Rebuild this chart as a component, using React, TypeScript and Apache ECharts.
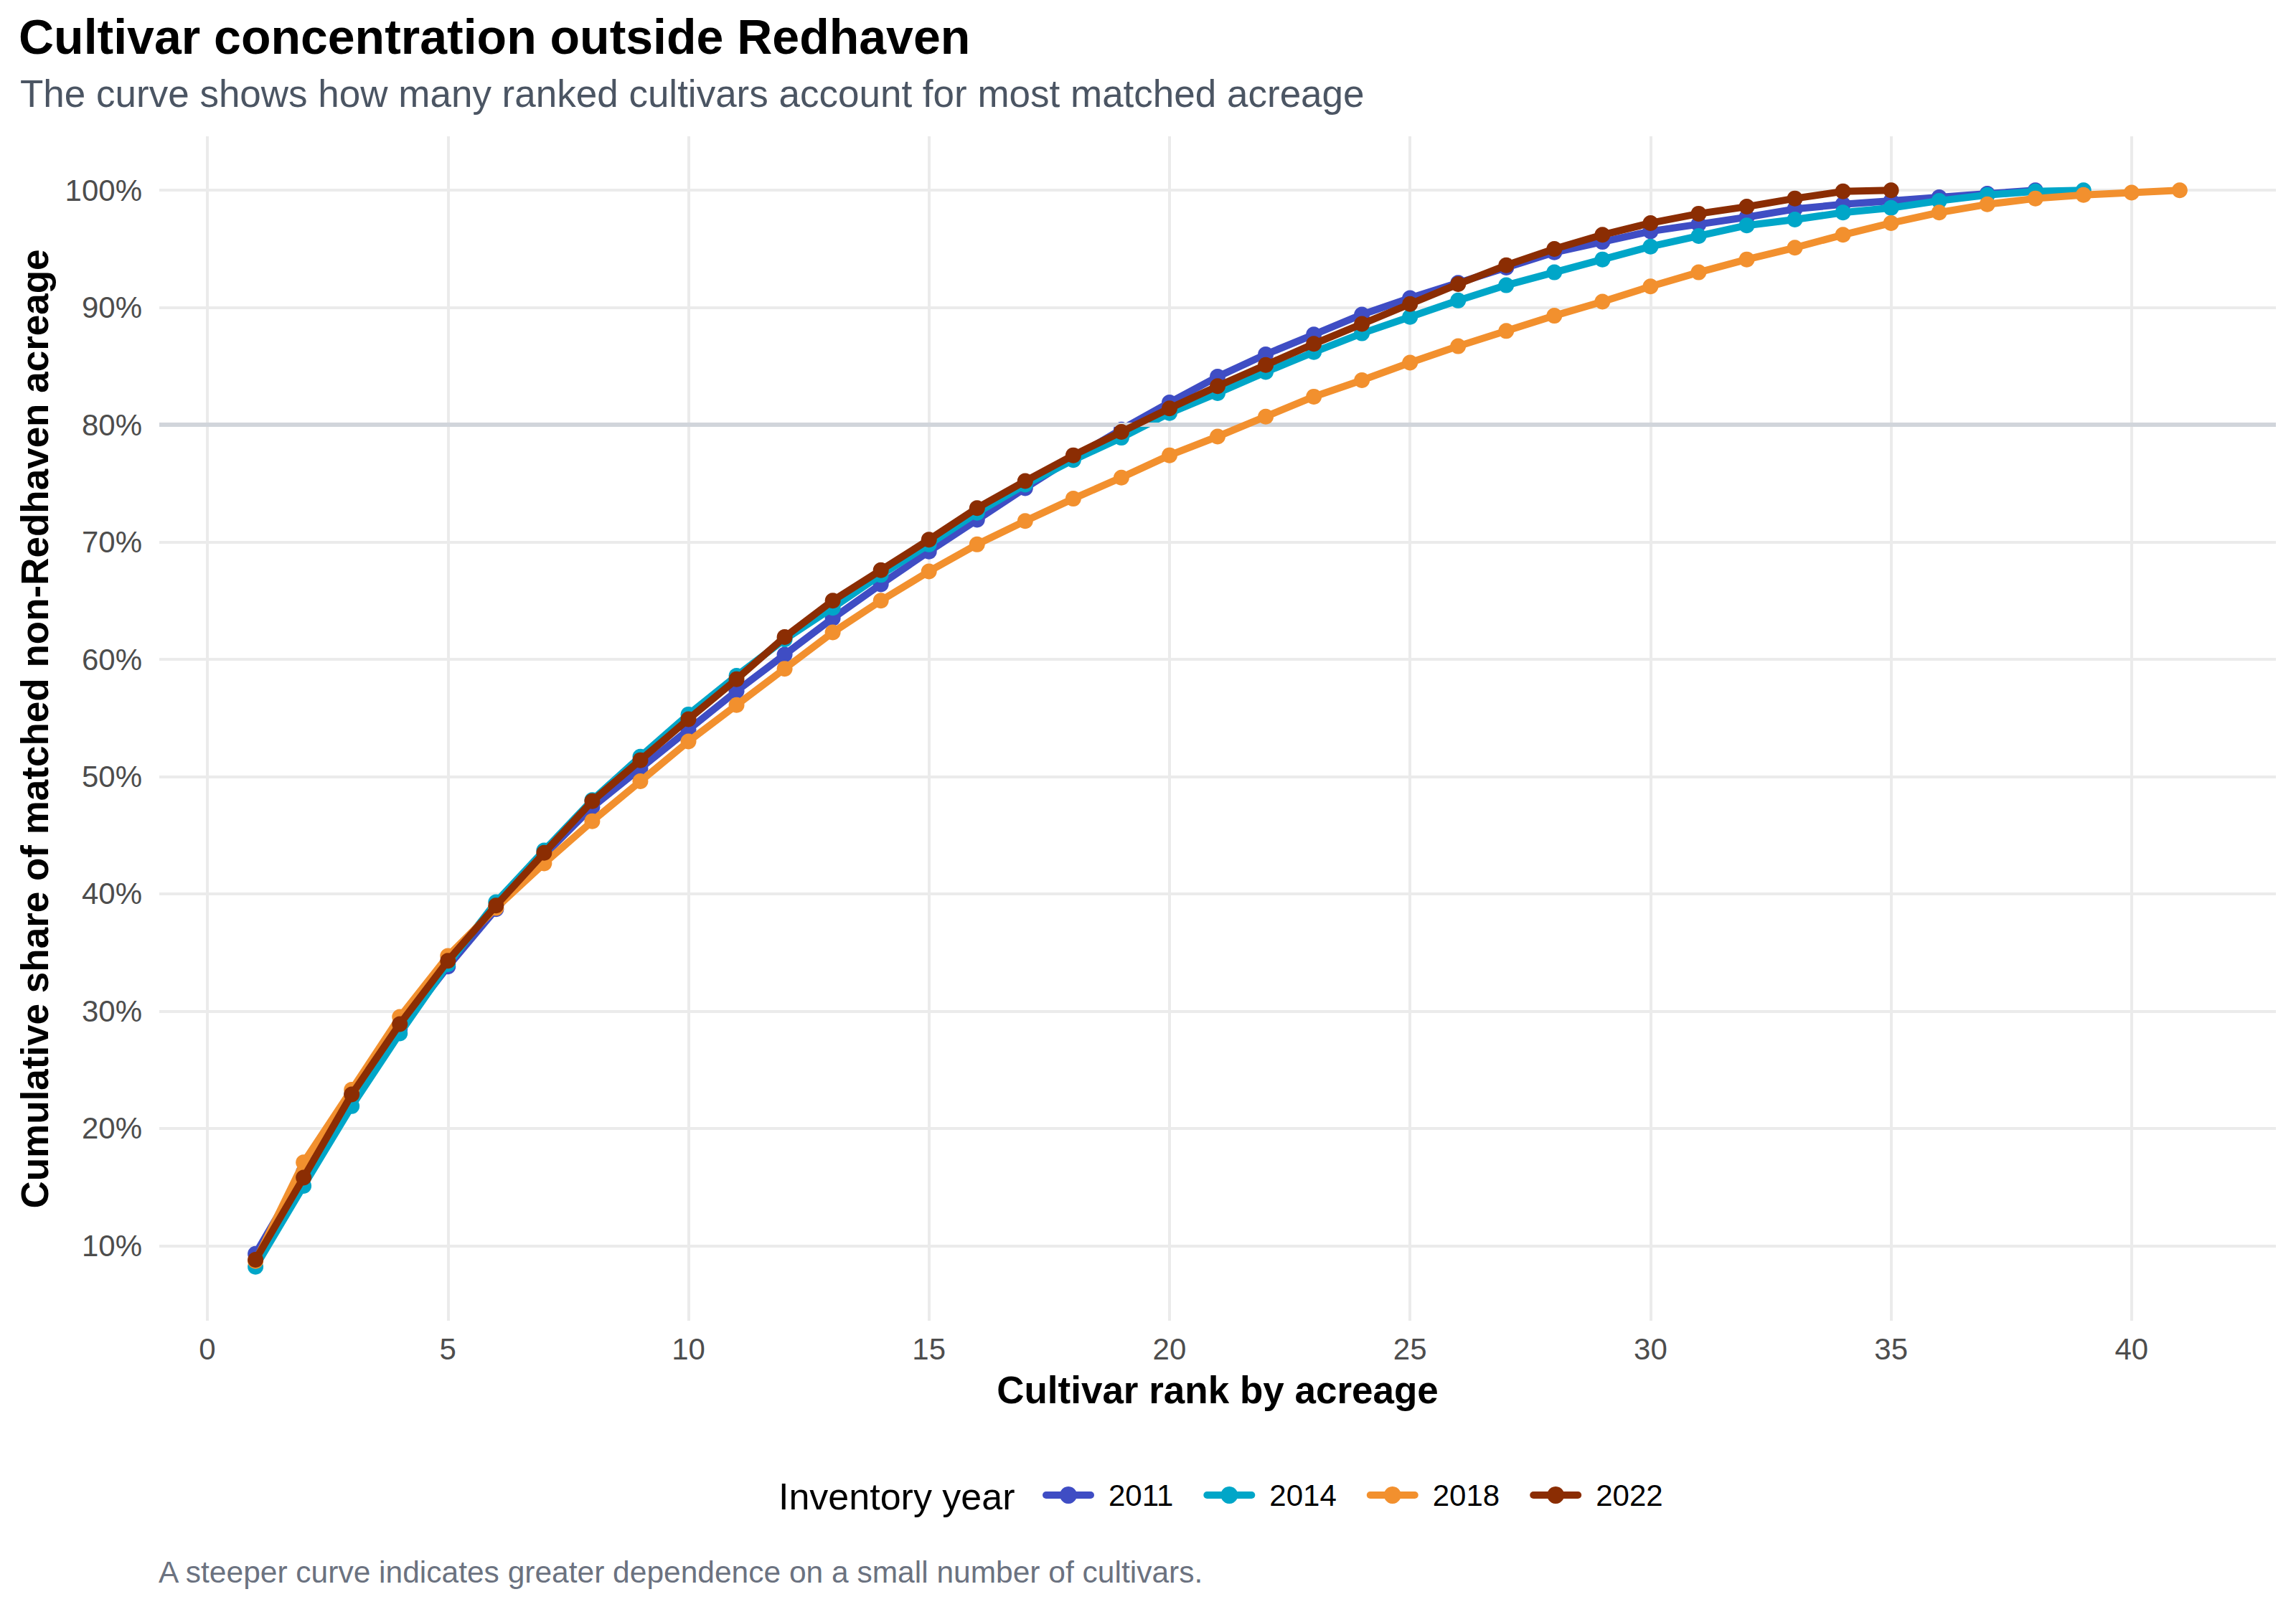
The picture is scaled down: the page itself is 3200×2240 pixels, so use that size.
import React, { useEffect, useRef } from "react";
import * as echarts from "echarts";

const ranks = [1,2,3,4,5,6,7,8,9,10,11,12,13,14,15,16,17,18,19,20,21,22,23,24,25,26,27,28,29,30,31,32,33,34,35,36,37,38,39,40,41];

const years = ["2011", "2014", "2018", "2022"];
const colors = ["#3f4dc4", "#00a6c8", "#f2902e", "#8b2d03"];

const share2011 = [9.3,16.3,22.8,28.5,33.8,38.7,43.3,47.4,50.7,54.0,57.3,60.4,63.5,66.4,69.2,71.9,74.6,77.2,79.6,81.9,84.1,86.0,87.7,89.4,90.8,92.1,93.4,94.7,95.6,96.5,97.1,97.7,98.4,98.8,99.1,99.4,99.7,100.0];
const share2014 = [8.2,15.1,21.9,28.1,34.0,39.3,43.7,48.0,51.7,55.3,58.6,61.7,64.4,67.2,69.8,72.5,74.9,77.0,78.9,81.0,82.7,84.5,86.2,87.8,89.2,90.6,91.9,93.0,94.1,95.2,96.1,97.0,97.5,98.1,98.5,99.1,99.6,99.9,100.0];
const share2018 = [8.7,17.1,23.3,29.5,34.7,38.8,42.6,46.2,49.6,53.0,56.1,59.2,62.3,65.0,67.5,69.8,71.8,73.7,75.5,77.4,79.0,80.7,82.4,83.8,85.3,86.7,88.0,89.3,90.5,91.8,93.0,94.1,95.1,96.2,97.2,98.1,98.8,99.3,99.6,99.8,100.0];
const share2022 = [8.8,15.8,22.9,28.9,34.3,39.0,43.5,47.9,51.4,54.9,58.3,61.9,65.0,67.6,70.2,72.9,75.2,77.4,79.4,81.4,83.3,85.1,86.9,88.6,90.3,92.0,93.6,95.0,96.2,97.2,98.0,98.6,99.3,99.9,100.0];

const xTicks = [0, 5, 10, 15, 20, 25, 30, 35, 40];
const yTicks = [10, 20, 30, 40, 50, 60, 70, 80, 90, 100];
const referenceShare = 80;

const titleText = "Cultivar concentration outside Redhaven";
const subtitleText = "The curve shows how many ranked cultivars account for most matched acreage";
const xTitle = "Cultivar rank by acreage";
const yTitle = "Cumulative share of matched non-Redhaven acreage";
const legendTitle = "Inventory year";
const captionText = "A steeper curve indicates greater dependence on a small number of cultivars.";

const FONT = "'Liberation Sans', Arial, Helvetica, sans-serif";

export default function App() {
  const ref = useRef<HTMLDivElement>(null);
  useEffect(() => {
    document.body.style.margin = "0";
    if (!ref.current) return;
    const chart = echarts.init(ref.current, undefined, { renderer: "svg" });
    const allShares = [share2011, share2014, share2018, share2022];
    const lineSeries = years.map((y, i) => ({
      name: y,
      type: "line",
      data: allShares[i].map((v, k) => [ranks[k], v]),
      symbol: "circle",
      symbolSize: 22,
      showSymbol: true,
      lineStyle: { width: 10, color: colors[i], join: "round", cap: "round" },
      itemStyle: { color: colors[i] },
      emphasis: { disabled: true },
      z: 3 + i,
    }));
    chart.setOption({
      animation: false,
      backgroundColor: "#ffffff",
      textStyle: { fontFamily: FONT },
      grid: { left: 222, right: 28, top: 190, bottom: 399, containLabel: false },
      xAxis: {
        type: "value",
        min: -1,
        max: 43,
        axisLine: { show: false },
        axisTick: { show: false, customValues: xTicks },
        axisLabel: { customValues: xTicks, fontSize: 42, color: "#4d4d4d", margin: 18, fontFamily: FONT },
        splitLine: { show: true, lineStyle: { color: "#ebebeb", width: 4 } },
      },
      yAxis: {
        type: "value",
        min: 3.6,
        max: 104.6,
        axisLine: { show: false },
        axisTick: { show: false, customValues: yTicks },
        axisLabel: {
          customValues: yTicks,
          fontSize: 42,
          color: "#4d4d4d",
          margin: 24,
          fontFamily: FONT,
          formatter: (v: number) => `${v}%`,
        },
        splitLine: { show: true, lineStyle: { color: "#ebebeb", width: 4 } },
      },
      legend: {
        data: years,
        left: 1453,
        top: 2063,
        orient: "horizontal",
        padding: 0,
        itemWidth: 62,
        itemHeight: 30,
        itemGap: 42,
        lineStyle: { width: 10 },
        textStyle: { fontSize: 42, color: "#000000", fontFamily: FONT, padding: [0, 0, 0, 20] },
      },
      graphic: [
        { type: "text", left: 26, top: 17, style: { text: titleText, font: `bold 68px ${FONT}`, fill: "#000000" } },
        { type: "text", left: 28, top: 104, style: { text: subtitleText, font: `53px ${FONT}`, fill: "#4b5563" } },
        { type: "text", x: 1697, y: 1937, style: { text: xTitle, font: `bold 53px ${FONT}`, fill: "#000000", align: "center", verticalAlign: "middle" } },
        { type: "text", x: 48, y: 1016, rotation: Math.PI / 2, style: { text: yTitle, font: `bold 53px ${FONT}`, fill: "#000000", align: "center", verticalAlign: "middle" } },
        { type: "text", x: 1085, y: 2086, style: { text: legendTitle, font: `52px ${FONT}`, fill: "#000000", align: "left", verticalAlign: "middle" } },
        { type: "text", x: 221, y: 2191, style: { text: captionText, font: `42.5px ${FONT}`, fill: "#6b7280", align: "left", verticalAlign: "middle" } },
      ],
      series: [
        {
          name: "ref",
          type: "line",
          data: [],
          z: 2,
          markLine: {
            silent: true,
            symbol: ["none", "none"],
            label: { show: false },
            lineStyle: { color: "#d1d5db", width: 6, type: "solid" },
            data: [{ yAxis: referenceShare }],
          },
        },
        ...lineSeries,
      ],
    });
    return () => chart.dispose();
  }, []);
  return <div ref={ref} style={{ width: 3200, height: 2240 }} />;
}
